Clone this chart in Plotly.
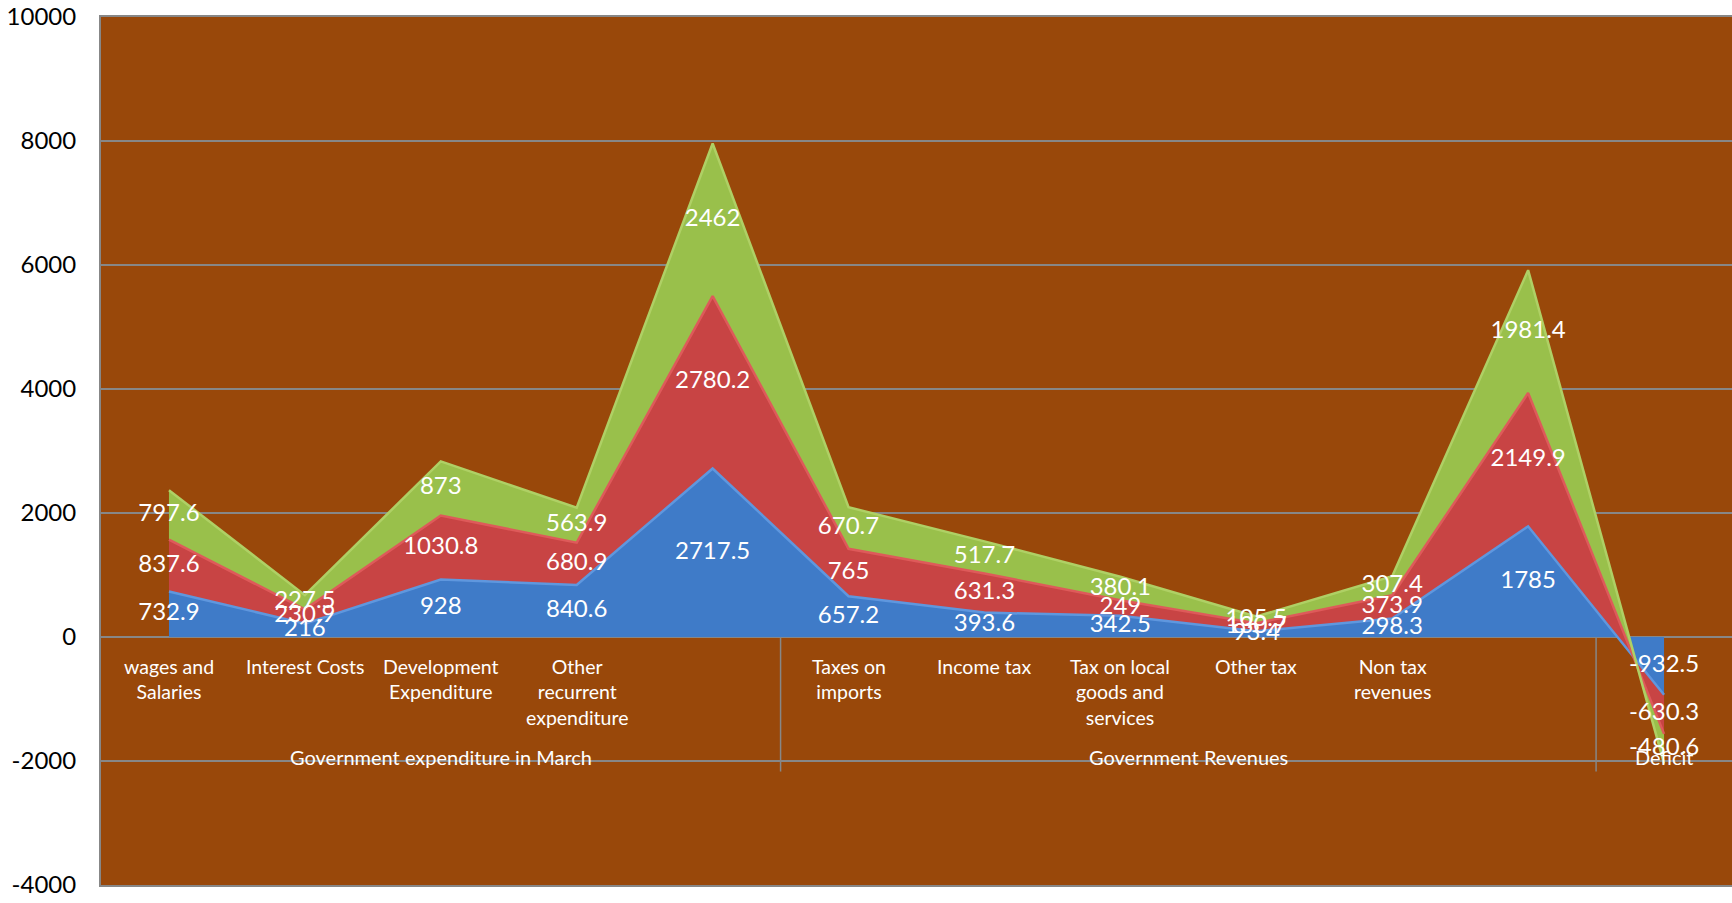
import numpy as np
import plotly.graph_objects as go

# Category labels (lower level of the category axis); blanks are the subtotal columns
categories = [
    "wages and<br>Salaries", "Interest Costs", "Development<br>Expenditure",
    "Other<br>recurrent<br>expenditure", "",
    "Taxes on<br>imports", "Income tax", "Tax on local<br>goods and<br>services",
    "Other tax", "Non tax<br>revenues", "", "",
]
# Upper level of the category axis and how many columns each group spans
groups = ["Government expenditure in March", "Government Revenues", "Deficit"]
group_sizes = [5, 6, 1]

series_blue = [732.9, 216, 928, 840.6, 2717.5, 657.2, 393.6, 342.5, 93.4, 298.3, 1785, -932.5]
series_red = [837.6, 230.9, 1030.8, 680.9, 2780.2, 765, 631.3, 249, 130.7, 373.9, 2149.9, -630.3]
series_green = [797.6, 227.5, 873, 563.9, 2462, 670.7, 517.7, 380.1, 105.5, 307.4, 1981.4, -480.6]

y_ticks = [-4000, -2000, 0, 2000, 4000, 6000, 8000, 10000]

FONT = "Lato"
BG = "#99480a"
GRID = "#878787"

x = np.arange(len(categories))
series = [
    (series_blue, "#3f7bc8", "#5f97de"),
    (series_red, "#c84444", "#de5a5a"),
    (series_green, "#99c04b", "#afd065"),
]

fig = go.Figure()

# Stacked areas
for vals, fill, edge in series:
    fig.add_trace(go.Scatter(
        x=x, y=vals, mode="lines", stackgroup="one",
        fillcolor=fill, line=dict(color=edge, width=2.5),
        hoverinfo="skip", showlegend=False,
    ))

# Value labels in the middle of each band
cum = np.zeros(len(categories))
for vals, _, _ in series:
    v = np.array(vals, dtype=float)
    mid = cum + v / 2
    cum = cum + v
    fig.add_trace(go.Scatter(
        x=x, y=mid, mode="text",
        text=[f"{val:g}" for val in vals],
        textposition="middle center",
        textfont=dict(family=FONT, size=24, color="white"),
        hoverinfo="skip", showlegend=False,
    ))

annotations = []
# Lower-level category labels just below the zero line
for i, lab in enumerate(categories):
    if lab:
        annotations.append(dict(
            x=i, y=0, xref="x", yref="y", text=lab, showarrow=False,
            yanchor="top", yshift=-16, align="center",
            font=dict(family=FONT, size=19.5, color="white"),
        ))

# Group labels and separators between groups
shapes = []
start = 0
for g, size in zip(groups, group_sizes):
    center = start + (size - 1) / 2
    annotations.append(dict(
        x=center, y=-2000, xref="x", yref="y", text=g, showarrow=False,
        yanchor="middle", yshift=4,
        font=dict(family=FONT, size=20, color="white"),
    ))
    if start > 0:
        shapes.append(dict(
            type="line", xref="x", yref="y",
            x0=start - 0.5, x1=start - 0.5, y0=0, y1=-2170,
            line=dict(color=GRID, width=1.5), layer="below",
        ))
    start += size

fig.update_layout(
    width=1732, height=903,
    margin=dict(l=101, r=0, t=17, b=18),
    paper_bgcolor="white",
    plot_bgcolor=BG,
    annotations=annotations,
    shapes=shapes,
    xaxis=dict(
        range=[-0.5, len(categories) - 0.5],
        showticklabels=False, showgrid=False, zeroline=False,
        showline=True, linecolor=GRID, linewidth=2, mirror=True,
    ),
    yaxis=dict(
        range=[y_ticks[0], y_ticks[-1]],
        tickvals=y_ticks, ticktext=[str(t) for t in y_ticks],
        tickfont=dict(family=FONT, size=24, color="black"),
        ticklabeloverflow="allow",
        showgrid=True, gridcolor=GRID, gridwidth=2,
        zeroline=False, showline=True, linecolor=GRID, linewidth=2,
        ticks="", ticklabelstandoff=18,
    ),
)

fig.write_html("out.html")
